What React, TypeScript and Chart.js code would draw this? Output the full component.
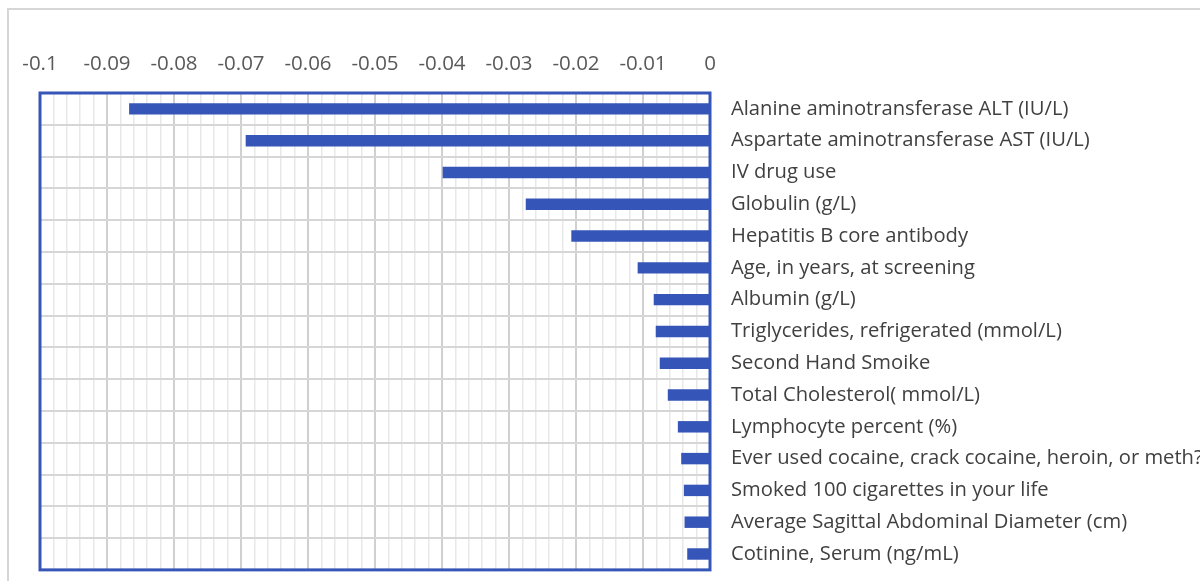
import React, { useEffect, useRef } from "react";
import { Chart, registerables } from "chart.js";

Chart.register(...registerables);

const categories = [
  "Alanine aminotransferase ALT (IU/L)",
  "Aspartate aminotransferase AST (IU/L)",
  "IV drug use",
  "Globulin (g/L)",
  "Hepatitis B core antibody",
  "Age, in years, at screening",
  "Albumin (g/L)",
  "Triglycerides, refrigerated (mmol/L)",
  "Second Hand Smoike",
  "Total Cholesterol( mmol/L)",
  "Lymphocyte percent (%)",
  "Ever used cocaine, crack cocaine, heroin, or meth?",
  "Smoked 100 cigarettes in your life",
  "Average Sagittal Abdominal Diameter (cm)",
  "Cotinine, Serum (ng/mL)",
];

const values = [
  -0.0867, -0.0693, -0.0399, -0.0275, -0.0207, -0.0108, -0.0084, -0.0081,
  -0.0075, -0.0063, -0.0048, -0.0043, -0.0039, -0.0038, -0.0034,
];

const xMin = -0.1;
const xMax = 0;
const minorStep = 0.002;
const majorEvery = 5;

const BLUE = "#3556b8";
const CANVAS_W = 1200;
const CANVAS_H = 603;

const framePlugin = {
  id: "frames",
  beforeDraw(chart: any) {
    const { ctx, width, height } = chart;
    ctx.save();
    ctx.fillStyle = "#ffffff";
    ctx.fillRect(0, 0, width, height);
    ctx.strokeStyle = "#d6d6d6";
    ctx.lineWidth = 2;
    ctx.beginPath();
    ctx.moveTo(8, height);
    ctx.lineTo(8, 9);
    ctx.lineTo(width, 9);
    ctx.stroke();
    ctx.restore();
  },
  afterDraw(chart: any) {
    const { ctx, chartArea } = chart;
    ctx.save();
    ctx.strokeStyle = BLUE;
    ctx.lineWidth = 3;
    ctx.strokeRect(
      chartArea.left,
      chartArea.top,
      chartArea.right - chartArea.left,
      chartArea.bottom - chartArea.top
    );
    ctx.restore();
  },
};

export default function App() {
  const ref = useRef<HTMLCanvasElement | null>(null);

  useEffect(() => {
    if (!ref.current) return;
    const chart = new Chart(ref.current, {
      type: "bar",
      data: {
        labels: categories,
        datasets: [
          {
            data: values,
            backgroundColor: BLUE,
            borderWidth: 0,
            barPercentage: 0.36,
            categoryPercentage: 1,
          },
        ],
      },
      options: {
        indexAxis: "y",
        responsive: false,
        animation: false,
        events: [],
        layout: { padding: { left: 40, top: 0, right: 0, bottom: 11 } },
        plugins: {
          legend: { display: false },
          tooltip: { enabled: false },
        },
        scales: {
          x: {
            type: "linear",
            position: "top",
            min: xMin,
            max: xMax,
            afterFit(scale: any) {
              scale.height = 93;
            },
            border: { display: false },
            grid: {
              drawTicks: false,
              color: (c: any) => (c.index % majorEvery === 0 ? "#d0d0d0" : "#e8e8e8"),
              lineWidth: (c: any) => (c.index % majorEvery === 0 ? 2 : 1.5),
            },
            ticks: {
              stepSize: minorStep,
              autoSkip: false,
              maxRotation: 0,
              minRotation: 0,
              padding: 17,
              color: "#595959",
              font: { family: "'Open Sans'", size: 20.5 },
              callback: (v: any, i: number) =>
                i % majorEvery === 0 ? String(Math.round(Number(v) * 100) / 100) : "",
            },
          },
          y: {
            position: "right",
            afterFit(scale: any) {
              scale.width = 490;
            },
            border: { display: false },
            grid: {
              drawTicks: false,
              color: "#d6d6d6",
              lineWidth: 2,
            },
            ticks: {
              padding: 21,
              color: "#404040",
              font: { family: "'Open Sans'", size: 20.2 },
            },
          },
        },
      },
      plugins: [framePlugin],
    });
    return () => chart.destroy();
  }, []);

  return (
    <div style={{ position: "fixed", left: 0, top: 0, width: 1200, height: 581, overflow: "hidden", background: "#fff" }}>
      <canvas ref={ref} width={CANVAS_W} height={CANVAS_H} style={{ display: "block" }} />
    </div>
  );
}
